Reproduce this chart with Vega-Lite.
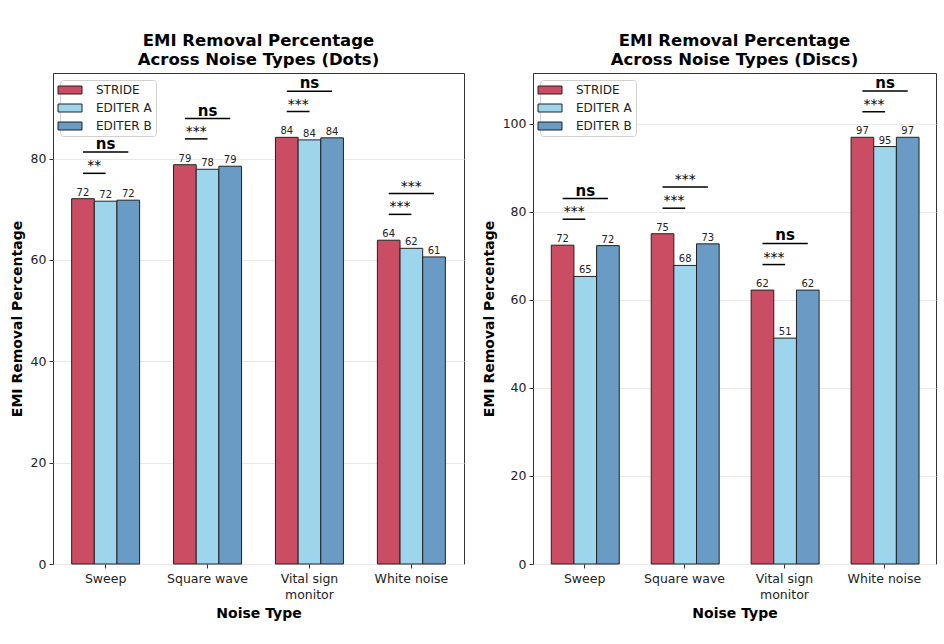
{
  "$schema": "https://vega.github.io/schema/vega-lite/v6.json",
  "background": "white",
  "padding": {"left": 9, "top": 32, "right": 5, "bottom": 5},
  "datasets": {
    "dots": [
      {"noise": "Sweep", "method": "STRIDE", "value": 72.1},
      {"noise": "Sweep", "method": "EDITER A", "value": 71.6},
      {"noise": "Sweep", "method": "EDITER B", "value": 71.8},
      {"noise": "Square wave", "method": "STRIDE", "value": 78.8},
      {"noise": "Square wave", "method": "EDITER A", "value": 77.9},
      {"noise": "Square wave", "method": "EDITER B", "value": 78.5},
      {"noise": "Vital sign monitor", "method": "STRIDE", "value": 84.2},
      {"noise": "Vital sign monitor", "method": "EDITER A", "value": 83.7},
      {"noise": "Vital sign monitor", "method": "EDITER B", "value": 84.1},
      {"noise": "White noise", "method": "STRIDE", "value": 63.9},
      {"noise": "White noise", "method": "EDITER A", "value": 62.3},
      {"noise": "White noise", "method": "EDITER B", "value": 60.6}
    ],
    "discs": [
      {"noise": "Sweep", "method": "STRIDE", "value": 72.4},
      {"noise": "Sweep", "method": "EDITER A", "value": 65.3},
      {"noise": "Sweep", "method": "EDITER B", "value": 72.3},
      {"noise": "Square wave", "method": "STRIDE", "value": 75.0},
      {"noise": "Square wave", "method": "EDITER A", "value": 67.8},
      {"noise": "Square wave", "method": "EDITER B", "value": 72.7},
      {"noise": "Vital sign monitor", "method": "STRIDE", "value": 62.2},
      {"noise": "Vital sign monitor", "method": "EDITER A", "value": 51.3},
      {"noise": "Vital sign monitor", "method": "EDITER B", "value": 62.2},
      {"noise": "White noise", "method": "STRIDE", "value": 96.9},
      {"noise": "White noise", "method": "EDITER A", "value": 94.8},
      {"noise": "White noise", "method": "EDITER B", "value": 96.9}
    ],
    "sig_dots": [
      {"noise": "Sweep", "level": "lower", "a": "STRIDE", "b": "EDITER A", "sig_y": 77.1, "label": "**"},
      {"noise": "Sweep", "level": "upper", "a": "STRIDE", "b": "EDITER B", "sig_y": 81.3, "label": "ns"},
      {"noise": "Square wave", "level": "lower", "a": "STRIDE", "b": "EDITER A", "sig_y": 83.9, "label": "***"},
      {"noise": "Square wave", "level": "upper", "a": "STRIDE", "b": "EDITER B", "sig_y": 87.9, "label": "ns"},
      {"noise": "Vital sign monitor", "level": "lower", "a": "STRIDE", "b": "EDITER A", "sig_y": 89.3, "label": "***"},
      {"noise": "Vital sign monitor", "level": "upper", "a": "STRIDE", "b": "EDITER B", "sig_y": 93.3, "label": "ns"},
      {"noise": "White noise", "level": "lower", "a": "STRIDE", "b": "EDITER A", "sig_y": 69.0, "label": "***"},
      {"noise": "White noise", "level": "upper", "a": "STRIDE", "b": "EDITER B", "sig_y": 73.1, "label": "***"}
    ],
    "sig_discs": [
      {"noise": "Sweep", "level": "lower", "a": "STRIDE", "b": "EDITER A", "sig_y": 78.3, "label": "***"},
      {"noise": "Sweep", "level": "upper", "a": "STRIDE", "b": "EDITER B", "sig_y": 83.0, "label": "ns"},
      {"noise": "Square wave", "level": "lower", "a": "STRIDE", "b": "EDITER A", "sig_y": 80.8, "label": "***"},
      {"noise": "Square wave", "level": "upper", "a": "STRIDE", "b": "EDITER B", "sig_y": 85.6, "label": "***"},
      {"noise": "Vital sign monitor", "level": "lower", "a": "STRIDE", "b": "EDITER A", "sig_y": 68.0, "label": "***"},
      {"noise": "Vital sign monitor", "level": "upper", "a": "STRIDE", "b": "EDITER B", "sig_y": 72.8, "label": "ns"},
      {"noise": "White noise", "level": "lower", "a": "STRIDE", "b": "EDITER A", "sig_y": 102.7, "label": "***"},
      {"noise": "White noise", "level": "upper", "a": "STRIDE", "b": "EDITER B", "sig_y": 107.4, "label": "ns"}
    ]
  },
  "spacing": 16,
  "resolve": {"scale": {"color": "independent"}, "legend": {"color": "independent"}},
  "hconcat": [
    {
      "width": 411,
      "height": 491,
      "title": {"text": ["EMI Removal Percentage", "Across Noise Types (Dots)"]},
      "encoding": {
        "x": {
          "field": "noise", "type": "nominal",
          "sort": ["Sweep", "Square wave", "Vital sign monitor", "White noise"],
          "scale": {"paddingInner": 0.333, "paddingOuter": 0.183},
          "title": "Noise Type",
          "axis": {"labelAngle": 0, "labelExpr": "datum.label == 'Vital sign monitor' ? ['Vital sign', 'monitor'] : datum.label"}
        }
      },
      "layer": [
        {
          "data": {"name": "dots"},
          "mark": {"type": "bar", "stroke": "#222222", "strokeWidth": 1, "opacity": 1},
          "encoding": {
            "xOffset": {"field": "method", "type": "nominal", "sort": ["STRIDE", "EDITER A", "EDITER B"], "scale": {"paddingInner": 0, "paddingOuter": 0}},
            "y": {"field": "value", "type": "quantitative", "scale": {"domain": [0, 96.9], "nice": false}, "axis": {"values": [0, 20, 40, 60, 80]}, "title": "EMI Removal Percentage"},
            "color": {"field": "method", "type": "nominal", "sort": ["STRIDE", "EDITER A", "EDITER B"], "scale": {"domain": ["STRIDE", "EDITER A", "EDITER B"], "range": ["#CA4D63", "#9DD5EC", "#6A9BC4"]}, "legend": {"title": null}}
          }
        },
        {
          "data": {"name": "dots"},
          "mark": {"type": "text", "baseline": "bottom", "dy": -1, "fontSize": 10, "color": "#222222"},
          "encoding": {
            "xOffset": {"field": "method", "type": "nominal", "sort": ["STRIDE", "EDITER A", "EDITER B"]},
            "y": {"field": "value", "type": "quantitative"},
            "text": {"field": "value", "type": "quantitative", "format": ".0f"}
          }
        },
        {
          "data": {"name": "sig_dots"},
          "transform": [{"fold": ["a", "b"], "as": ["end", "method"]}],
          "mark": {"type": "line", "color": "black", "strokeWidth": 1.5},
          "encoding": {
            "xOffset": {"field": "method", "type": "nominal", "sort": ["STRIDE", "EDITER A", "EDITER B"]},
            "y": {"field": "sig_y", "type": "quantitative"},
            "detail": [{"field": "noise"}, {"field": "level"}]
          }
        },
        {
          "data": {"name": "sig_dots"},
          "mark": {"type": "text", "baseline": "alphabetic", "dy": -3, "color": "black",
            "fontWeight": {"expr": "datum.label == 'ns' ? 'bold' : 'normal'"},
            "fontSize": {"expr": "datum.label == 'ns' ? 15 : 14"},
            "dx": {"expr": "datum.level == 'lower' ? -11.3 : 0"}},
          "encoding": {
            "xOffset": {"datum": "EDITER A", "type": "nominal"},
            "y": {"field": "sig_y", "type": "quantitative"},
            "text": {"field": "label"}
          }
        }
      ]
    },
    {
      "width": 403,
      "height": 491,
      "title": {"text": ["EMI Removal Percentage", "Across Noise Types (Discs)"]},
      "encoding": {
        "x": {
          "field": "noise", "type": "nominal",
          "sort": ["Sweep", "Square wave", "Vital sign monitor", "White noise"],
          "scale": {"paddingInner": 0.333, "paddingOuter": 0.183},
          "title": "Noise Type",
          "axis": {"labelAngle": 0, "labelExpr": "datum.label == 'Vital sign monitor' ? ['Vital sign', 'monitor'] : datum.label"}
        }
      },
      "layer": [
        {
          "data": {"name": "discs"},
          "mark": {"type": "bar", "stroke": "#222222", "strokeWidth": 1, "opacity": 1},
          "encoding": {
            "xOffset": {"field": "method", "type": "nominal", "sort": ["STRIDE", "EDITER A", "EDITER B"], "scale": {"paddingInner": 0, "paddingOuter": 0}},
            "y": {"field": "value", "type": "quantitative", "scale": {"domain": [0, 111.5], "nice": false}, "axis": {"values": [0, 20, 40, 60, 80, 100]}, "title": "EMI Removal Percentage"},
            "color": {"field": "method", "type": "nominal", "sort": ["STRIDE", "EDITER A", "EDITER B"], "scale": {"domain": ["STRIDE", "EDITER A", "EDITER B"], "range": ["#CA4D63", "#9DD5EC", "#6A9BC4"]}, "legend": {"title": null}}
          }
        },
        {
          "data": {"name": "discs"},
          "mark": {"type": "text", "baseline": "bottom", "dy": -1, "fontSize": 10, "color": "#222222"},
          "encoding": {
            "xOffset": {"field": "method", "type": "nominal", "sort": ["STRIDE", "EDITER A", "EDITER B"]},
            "y": {"field": "value", "type": "quantitative"},
            "text": {"field": "value", "type": "quantitative", "format": ".0f"}
          }
        },
        {
          "data": {"name": "sig_discs"},
          "transform": [{"fold": ["a", "b"], "as": ["end", "method"]}],
          "mark": {"type": "line", "color": "black", "strokeWidth": 1.5},
          "encoding": {
            "xOffset": {"field": "method", "type": "nominal", "sort": ["STRIDE", "EDITER A", "EDITER B"]},
            "y": {"field": "sig_y", "type": "quantitative"},
            "detail": [{"field": "noise"}, {"field": "level"}]
          }
        },
        {
          "data": {"name": "sig_discs"},
          "mark": {"type": "text", "baseline": "alphabetic", "dy": -3, "color": "black",
            "fontWeight": {"expr": "datum.label == 'ns' ? 'bold' : 'normal'"},
            "fontSize": {"expr": "datum.label == 'ns' ? 15 : 14"},
            "dx": {"expr": "datum.level == 'lower' ? -11.1 : 0"}},
          "encoding": {
            "xOffset": {"datum": "EDITER A", "type": "nominal"},
            "y": {"field": "sig_y", "type": "quantitative"},
            "text": {"field": "label"}
          }
        }
      ]
    }
  ],
  "config": {
    "font": "DejaVu Sans",
    "view": {"stroke": "#333333", "strokeWidth": 1},
    "title": {"fontSize": 16.5, "fontWeight": "bold", "lineHeight": 19, "offset": 5, "color": "black", "anchor": "middle"},
    "axis": {"labelFontSize": 12.5, "labelColor": "#222222", "titleFontSize": 14, "titleFontWeight": "bold", "titleColor": "black", "tickSize": 4, "tickColor": "#333333", "domain": false, "labelPadding": 3},
    "axisX": {"grid": false, "titlePadding": 6, "labelLineHeight": 16, "labelPadding": 4},
    "axisY": {"grid": true, "gridColor": "#e8e8e8", "titlePadding": 6},
    "legend": {"orient": "top-left", "offset": 7, "padding": 4, "fillColor": "white", "strokeColor": "#d0d0d0", "cornerRadius": 3, "labelFontSize": 12, "labelColor": "#222222", "symbolType": "M-3,-1H3V1H-3Z", "symbolSize": 64, "symbolStrokeColor": "#222222", "symbolStrokeWidth": 1, "symbolOpacity": 1, "rowPadding": 6, "labelOffset": 20}
  }
}
